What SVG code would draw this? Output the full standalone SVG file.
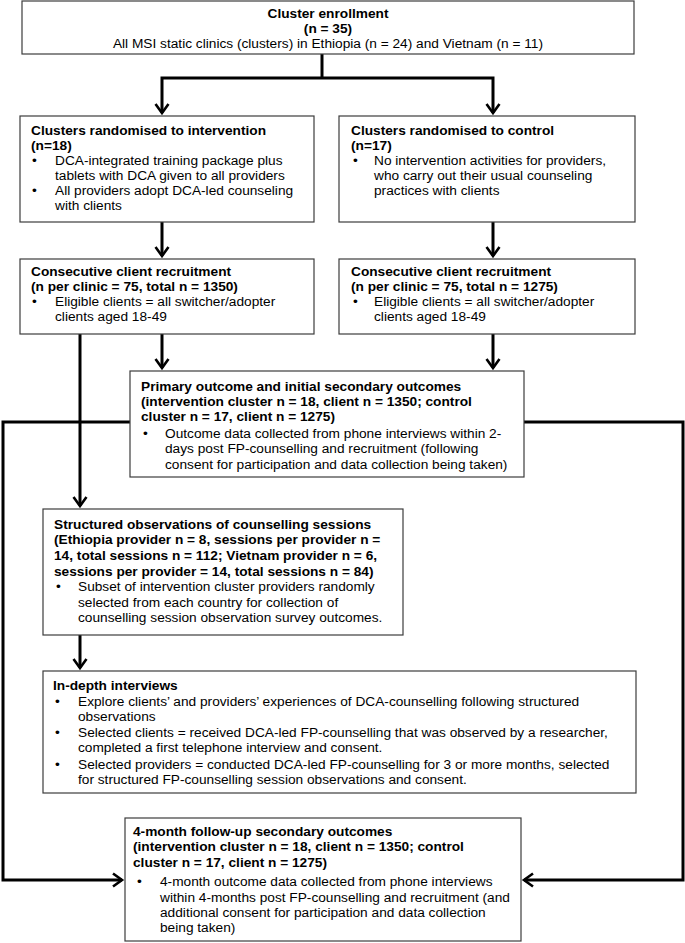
<svg xmlns="http://www.w3.org/2000/svg" width="685" height="943" viewBox="0 0 685 943">
<style>
.box{fill:#fff;stroke:#3c3c3c;stroke-width:1.2}
.t{font-family:"Liberation Sans",Arial,Helvetica,sans-serif;font-size:13.7px;fill:#000}
.b{font-weight:bold}
.c{text-anchor:middle}
.conn{fill:none;stroke:#000;stroke-width:3;stroke-linejoin:miter}
.arr{marker-end:url(#ah)}
</style>
<defs>
<marker id="ah" markerUnits="userSpaceOnUse" markerWidth="16" markerHeight="16" viewBox="0 0 16 16" refX="10" refY="8" orient="auto">
<path d="M1,1.5 L10,8 L1,14.5" fill="none" stroke="#000" stroke-width="2.6"/>
</marker>
</defs>
<rect width="685" height="943" fill="#fff"/>
<g id="connectors">
<path class="conn" d="M322,54 V78"/>
<path class="conn arr" d="M322,78 H162 V113"/>
<path class="conn arr" d="M322,78 H493 V113"/>
<path class="conn arr" d="M162,222 V256"/>
<path class="conn arr" d="M493,222 V256"/>
<path class="conn arr" d="M162,334 V368"/>
<path class="conn arr" d="M493,334 V368"/>
<path class="conn arr" d="M80,334 V506"/>
<path class="conn arr" d="M80,635 V668"/>
<path class="conn arr" d="M130,422 H3 V880 H122"/>
<path class="conn arr" d="M524,422 H683 V880 H524"/>
</g>
<g id="enrollment">
<rect class="box" x="22" y="1" width="612" height="53"/>
<text class="t b c" x="328" y="18">Cluster enrollment</text>
<text class="t b c" x="328" y="33">(n = 35)</text>
<text class="t c" x="328" y="48">All MSI static clinics (clusters) in Ethiopia (n = 24) and Vietnam (n = 11)</text>
</g>
<g id="intervention">
<rect class="box" x="20" y="116" width="294" height="106"/>
<text class="t b" x="31" y="135">Clusters randomised to intervention</text>
<text class="t b" x="31" y="150">(n=18)</text>
<text class="t" x="32" y="165">•</text>
<text class="t" x="55" y="165">DCA-integrated training package plus</text>
<text class="t" x="55" y="180">tablets with DCA given to all providers</text>
<text class="t" x="32" y="195">•</text>
<text class="t" x="55" y="195">All providers adopt DCA-led counseling</text>
<text class="t" x="55" y="210">with clients</text>
</g>
<g id="control">
<rect class="box" x="339" y="116" width="296" height="106"/>
<text class="t b" x="351" y="135">Clusters randomised to control</text>
<text class="t b" x="351" y="150">(n=17)</text>
<text class="t" x="353" y="165">•</text>
<text class="t" x="374" y="165">No intervention activities for providers,</text>
<text class="t" x="374" y="180">who carry out their usual counseling</text>
<text class="t" x="374" y="195">practices with clients</text>
</g>
<g id="recruit-intervention">
<rect class="box" x="20" y="259" width="294" height="75"/>
<text class="t b" x="31" y="276">Consecutive client recruitment</text>
<text class="t b" x="31" y="291">(n per clinic = 75, total n = 1350)</text>
<text class="t" x="32" y="306">•</text>
<text class="t" x="55" y="306">Eligible clients = all switcher/adopter</text>
<text class="t" x="55" y="321">clients aged 18-49</text>
</g>
<g id="recruit-control">
<rect class="box" x="339" y="259" width="296" height="75"/>
<text class="t b" x="351" y="276">Consecutive client recruitment</text>
<text class="t b" x="351" y="291">(n per clinic = 75, total n = 1275)</text>
<text class="t" x="353" y="306">•</text>
<text class="t" x="374" y="306">Eligible clients = all switcher/adopter</text>
<text class="t" x="374" y="321">clients aged 18-49</text>
</g>
<g id="primary">
<rect class="box" x="130" y="371" width="394" height="106"/>
<text class="t b" x="141" y="391">Primary outcome and initial secondary outcomes</text>
<text class="t b" x="141" y="406">(intervention cluster n = 18, client n = 1350; control</text>
<text class="t b" x="141" y="421">cluster n = 17, client n = 1275)</text>
<text class="t" x="143" y="438">•</text>
<text class="t" x="165" y="438">Outcome data collected from phone interviews within 2-</text>
<text class="t" x="165" y="453">days post FP-counselling and recruitment (following</text>
<text class="t" x="165" y="469">consent for participation and data collection being taken)</text>
</g>
<g id="observations">
<rect class="box" x="43" y="509" width="360" height="126"/>
<text class="t b" x="54" y="529">Structured observations of counselling sessions</text>
<text class="t b" x="54" y="544">(Ethiopia provider n = 8, sessions per provider n =</text>
<text class="t b" x="54" y="560">14, total sessions n = 112; Vietnam provider n = 6,</text>
<text class="t b" x="54" y="576">sessions per provider = 14, total sessions n = 84)</text>
<text class="t" x="56" y="591">•</text>
<text class="t" x="78" y="591">Subset of intervention cluster providers randomly</text>
<text class="t" x="78" y="607">selected from each country for collection of</text>
<text class="t" x="78" y="622">counselling session observation survey outcomes.</text>
</g>
<g id="interviews">
<rect class="box" x="43" y="671" width="593" height="122"/>
<text class="t b" x="53" y="690">In-depth interviews</text>
<text class="t" x="55" y="706">•</text>
<text class="t" x="78" y="706">Explore clients’ and providers’ experiences of DCA-counselling following structured</text>
<text class="t" x="78" y="721">observations</text>
<text class="t" x="55" y="737">•</text>
<text class="t" x="78" y="737">Selected clients = received DCA-led FP-counselling that was observed by a researcher,</text>
<text class="t" x="78" y="752">completed a first telephone interview and consent.</text>
<text class="t" x="55" y="769">•</text>
<text class="t" x="78" y="769">Selected providers = conducted DCA-led FP-counselling for 3 or more months, selected</text>
<text class="t" x="78" y="784">for structured FP-counselling session observations and consent.</text>
</g>
<g id="followup">
<rect class="box" x="125" y="818" width="396" height="123"/>
<text class="t b" x="133" y="836">4-month follow-up secondary outcomes</text>
<text class="t b" x="133" y="851">(intervention cluster n = 18, client n = 1350; control</text>
<text class="t b" x="133" y="867">cluster n = 17, client n = 1275)</text>
<text class="t" x="137" y="886">•</text>
<text class="t" x="160" y="886">4-month outcome data collected from phone interviews</text>
<text class="t" x="160" y="902">within 4-months post FP-counselling and recruitment (and</text>
<text class="t" x="160" y="917">additional consent for participation and data collection</text>
<text class="t" x="160" y="932">being taken)</text>
</g>
</svg>
